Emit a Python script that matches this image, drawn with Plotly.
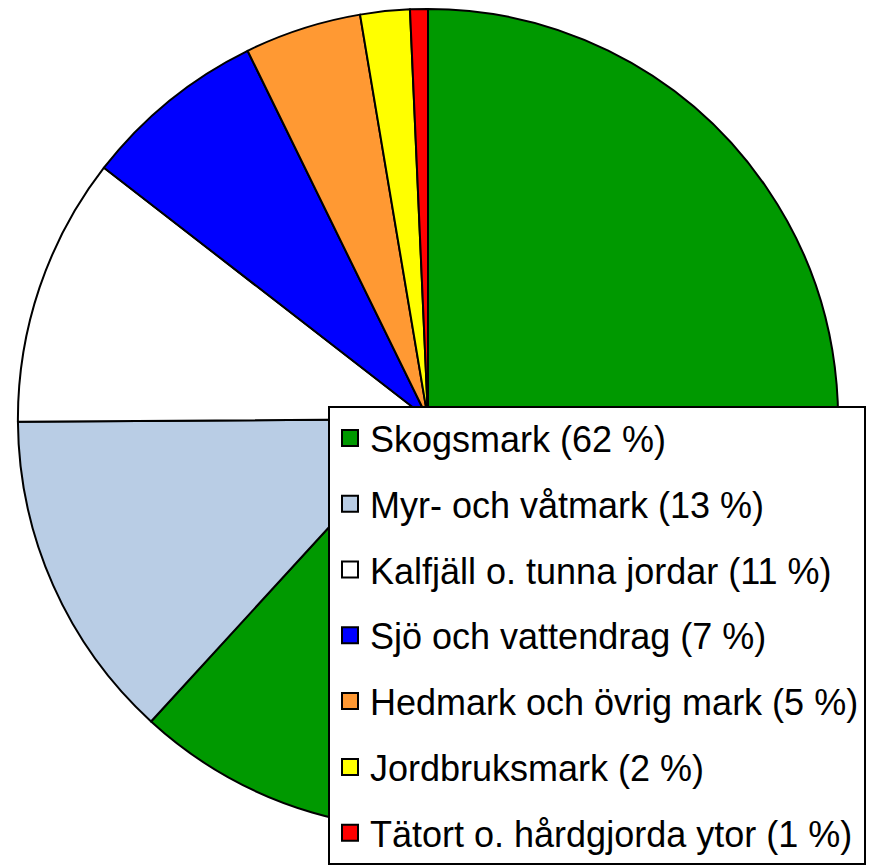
import plotly.graph_objects as go

labels = [
    "Skogsmark (62 %)",
    "Myr- och våtmark (13 %)",
    "Kalfjäll o. tunna jordar (11 %)",
    "Sjö och vattendrag (7 %)",
    "Hedmark och övrig mark (5 %)",
    "Jordbruksmark (2 %)",
    "Tätort o. hårdgjorda ytor (1 %)",
]
values = [61.8, 13.1, 10.6, 7.25, 4.6, 1.95, 0.7]
colors = ["#009900", "#B9CDE5", "#FFFFFF", "#0000FF", "#FF9933", "#FFFF00", "#FF0000"]

W, H = 879, 865

fig = go.Figure()
fig.add_trace(go.Pie(
    labels=labels,
    values=values,
    sort=False,
    direction="clockwise",
    rotation=0,
    textinfo="none",
    marker=dict(colors=colors, line=dict(color="black", width=2)),
    domain=dict(x=[16 / W, 840 / W], y=[1 - 833 / H, 1 - 9 / H]),
    showlegend=False,
))

for i, (lab, col) in enumerate(zip(labels, colors)):
    fig.add_trace(go.Scatter(
        x=[None], y=[None], mode="markers", name=lab,
        legendgroup=f"g{i}",
        marker=dict(symbol="square", size=18, color=col,
                    line=dict(color="black", width=2)),
        showlegend=True, hoverinfo="skip",
    ))

fig.update_layout(
    width=W, height=H,
    margin=dict(l=0, r=0, t=0, b=0),
    paper_bgcolor="white", plot_bgcolor="white",
    xaxis=dict(visible=False), yaxis=dict(visible=False),
    legend=dict(
        x=328 / W, xanchor="left", y=1 - 408 / H, yanchor="top",
        font=dict(family="Liberation Sans, Arial, sans-serif", size=36, color="black"),
        bgcolor="white", bordercolor="black", borderwidth=2,
        tracegroupgap=16, itemsizing="trace",
    ),
)

fig.write_html("out.html", config={"displayModeBar": False},
               post_script="document.body.style.margin='0';")
